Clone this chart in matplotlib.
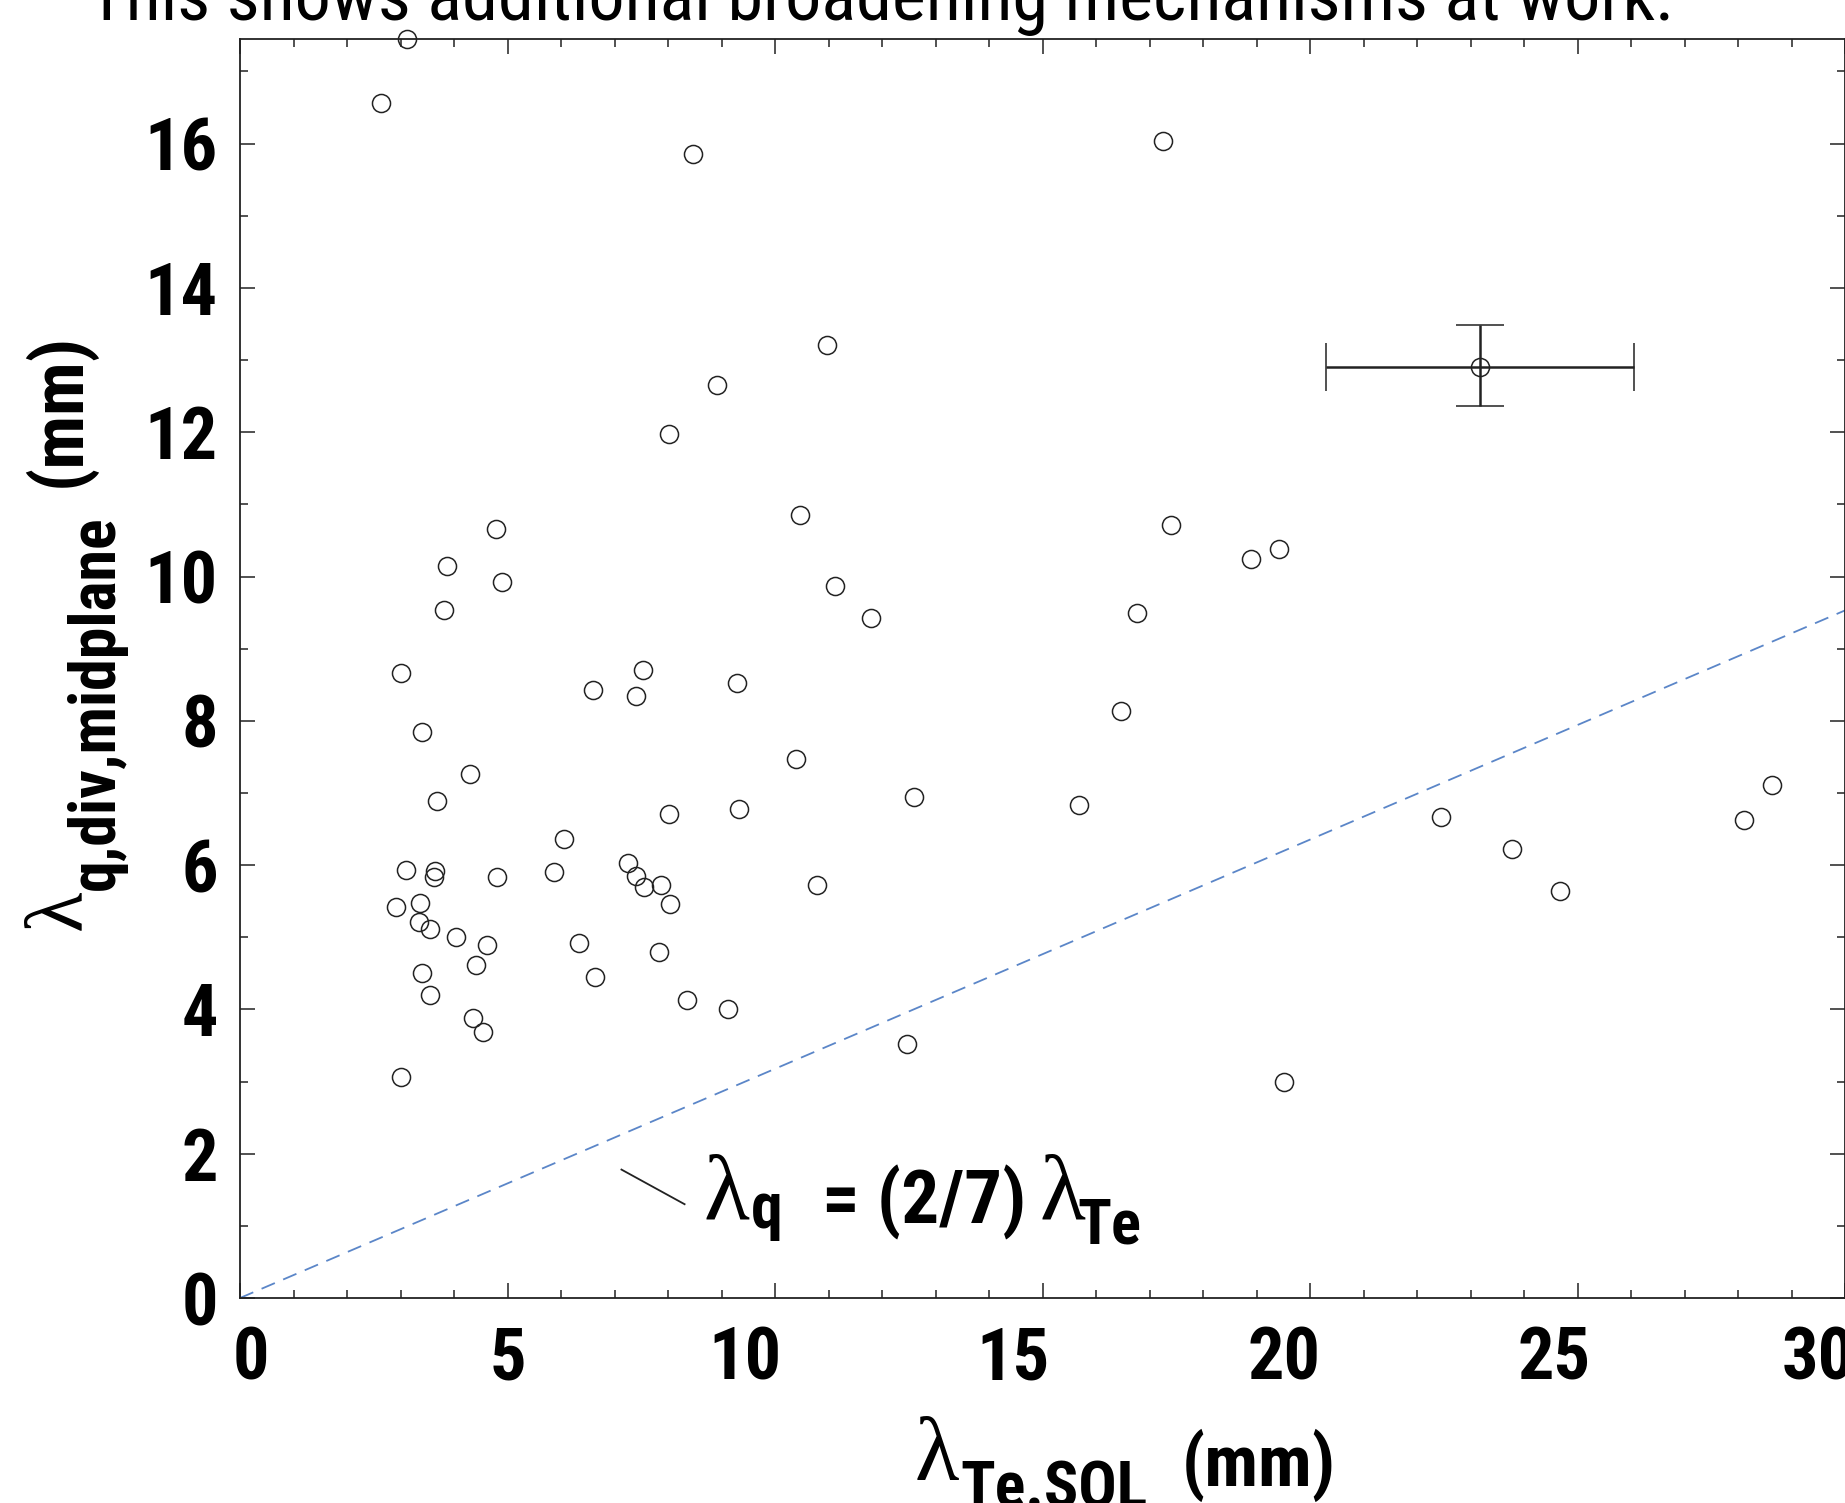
import numpy as np
import matplotlib
matplotlib.use("Agg")
import matplotlib.pyplot as plt
from matplotlib import font_manager as fm
from matplotlib.ticker import MultipleLocator
from matplotlib.transforms import ScaledTranslation, IdentityTransform

# data
lam_te = [3.12, 2.64, 8.46, 17.26, 10.97, 8.91, 8.01, 4.78, 10.47, 17.40,
          3.87, 4.90, 18.89, 19.42, 3.81, 11.13, 11.79, 16.76, 3.00, 7.53,
          6.60, 7.40, 9.29, 16.47, 3.41, 4.30, 10.39, 3.69, 8.01, 9.33,
          12.60, 15.68, 22.45, 23.77, 28.11, 28.63, 6.06, 3.10, 3.64, 3.63,
          4.81, 5.87, 7.26, 7.40, 7.55, 7.87, 8.04, 10.79, 24.68, 2.91,
          3.37, 3.34, 3.56, 4.04, 4.61, 6.34, 4.42, 7.83, 3.41, 6.63,
          3.55, 8.35, 9.12, 4.36, 4.55, 12.47, 3.00, 19.51]
lam_q = [17.45, 16.56, 15.86, 16.04, 13.21, 12.66, 11.97, 10.66, 10.85, 10.72,
         10.15, 9.93, 10.24, 10.38, 9.53, 9.87, 9.43, 9.49, 8.66, 8.70,
         8.43, 8.35, 8.52, 8.14, 7.85, 7.26, 7.47, 6.89, 6.71, 6.78,
         6.95, 6.84, 6.67, 6.22, 6.62, 7.11, 6.36, 5.93, 5.92, 5.84,
         5.84, 5.91, 6.03, 5.85, 5.70, 5.73, 5.46, 5.72, 5.64, 5.42,
         5.48, 5.21, 5.11, 5.01, 4.89, 4.92, 4.62, 4.79, 4.50, 4.45,
         4.20, 4.13, 4.00, 3.88, 3.69, 3.52, 3.06, 2.99]

# typical error bar
err_x, err_y = 23.17, 12.90
err_dx = 2.88
err_dy = [[0.53], [0.58]]

# dashed reference line as drawn
ref_x = [0, 30]
ref_y = [0, 9.53]

x_ticks = [0, 5, 10, 15, 20, 25, 30]
y_ticks = [0, 2, 4, 6, 8, 10, 12, 14, 16]


# pick a condensed sans if one is installed
def pick_font():
    entries = fm.fontManager.ttflist
    names = {f.name for f in entries}
    for cand in ['Liberation Sans Narrow', 'DejaVu Sans Condensed',
                 'Roboto Condensed', 'Open Sans Condensed',
                 'Noto Sans Condensed', 'Arial Narrow']:
        if cand in names:
            return cand, 'normal'
    for f in entries:
        if f.name == 'DejaVu Sans' and f.stretch == 'condensed':
            return 'DejaVu Sans', 'condensed'
    return 'Liberation Sans', 'normal'


fam, stretch = pick_font()
plt.rcParams['font.family'] = [fam, 'DejaVu Sans']
plt.rcParams['font.stretch'] = stretch
SERIF = 'Liberation Serif'

fig = plt.figure(figsize=(18.45, 15.03), dpi=100)
ax = fig.add_axes([240 / 1845, 205 / 1503, 1605 / 1845, 1259 / 1503])
H = 1503


def chain(x, y, parts, vertical=False):
    # write text pieces one after another (pixel coords, y up);
    # each part: text, size, serif?, shift down in px, gap after in px
    r = fig.canvas.get_renderer()
    for s, size, serif, shift, gap in parts:
        kw = dict(fontsize=size, transform=IdentityTransform(),
                  ha='left', va='baseline')
        if serif:
            kw['family'] = SERIF
        else:
            kw['fontweight'] = 'bold'
        if vertical:
            t = fig.text(x + shift, y, s, rotation=90, rotation_mode='anchor',
                         **kw)
            y = t.get_window_extent(r).y1 + gap
        else:
            t = fig.text(x, y - shift, s, **kw)
            x = t.get_window_extent(r).x1 + gap


ax.plot(ref_x, ref_y, color='#5b86c8', lw=1.3, dashes=(8, 5))
ax.plot(lam_te, lam_q, 'o', ms=13, mfc='none', mec='#222222', mew=1.1,
        clip_on=False, zorder=3)
ax.errorbar([err_x], [err_y], xerr=err_dx, yerr=err_dy, fmt='o', ms=13,
            mfc='none', mec='#222222', mew=1.1, ecolor='#222222',
            elinewidth=1.8, capsize=17, capthick=1.8)

ax.set_xlim(0, 30)
ax.set_ylim(0, 17.45)
ax.set_xticks(x_ticks)
ax.set_yticks(y_ticks)
ax.xaxis.set_minor_locator(MultipleLocator(1))
ax.yaxis.set_minor_locator(MultipleLocator(1))
ax.tick_params(which='both', direction='in', top=True, right=True,
               width=1.1, color='#222222')
ax.tick_params(which='major', length=11)
ax.tick_params(which='minor', length=6)
ax.tick_params(axis='x', pad=20, labelsize=52)
ax.tick_params(axis='y', pad=16, labelsize=52)
for lab in ax.get_xticklabels() + ax.get_yticklabels():
    lab.set_fontweight('bold')

# the x tick labels in the original sit a little off their ticks
shift_pt = [8, 0, -22, -21, -19, -17, -19]
for lab, dx in zip(ax.get_xticklabels(), shift_pt):
    lab.set_transform(lab.get_transform()
                      + ScaledTranslation(dx / 72, 0, fig.dpi_scale_trans))

for sp in ax.spines.values():
    sp.set_linewidth(1.3)
    sp.set_color('#222222')

# label for the dashed line
ax.plot([7.13, 8.31], [1.78, 1.30], color='#222222', lw=1.3)
ax0, ay0 = ax.transData.transform((8.67, 1.03))
chain(ax0, ay0, [('λ', 68, True, -4, 1),
                 ('q', 46, False, 4, 40),
                 ('= (2/7)', 54, False, 0, 13),
                 ('λ', 68, True, -4, -8),
                 ('Te', 45, False, 20, 0)])

# axis titles
chain(915, H - 1486, [('λ', 66, True, -6, 1),
                      ('Te.SOL', 46, False, 22, 34),
                      ('(mm)', 52, False, 0, 0)])
chain(80, H - 930, [('λ', 60, True, 0, 0),
                    ('q,div,midplane', 46, False, 34, 28),
                    ('(mm)', 52, False, 0, 0)], vertical=True)

fig.text(88 / 1845, 1 - 20 / 1503,
         'This shows additional broadening mechanisms at work.',
         ha='left', va='baseline', fontsize=52)

fig.savefig('out.png', dpi=100)
